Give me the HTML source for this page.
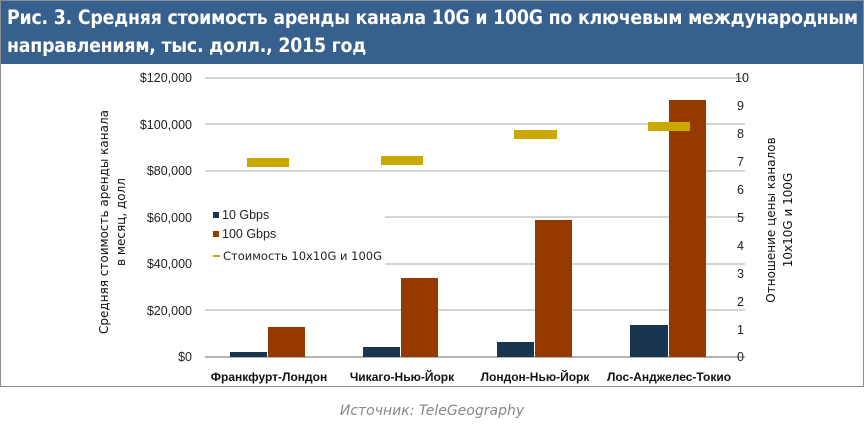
<!DOCTYPE html><html><head><meta charset="utf-8"><style>
body{margin:0;width:864px;height:426px;background:#fff;overflow:hidden;font-family:"Liberation Sans","DejaVu Sans",sans-serif}
</style></head><body>
<div style="position:absolute;left:0;top:0;width:862px;height:385px;border:1px solid #8a8f96"></div>
<div style="position:absolute;left:1px;top:1px;width:862px;height:63px;background:#37608f;color:#fff;font-family:'DejaVu Sans Condensed','DejaVu Sans',sans-serif;font-weight:bold;font-size:19.3px;line-height:28px;padding:3px 0 0 6px;box-sizing:border-box;letter-spacing:-0.2px;white-space:nowrap">Рис. 3. Средняя стоимость аренды канала 10G и 100G по ключевым международным<br>направлениям, тыс. долл., 2015 год</div>
<svg width="864" height="426" style="position:absolute;left:0;top:0" font-family="Liberation Sans, sans-serif">
<g stroke="#d4d4d4" stroke-width="2">
<line x1="205" y1="78" x2="745" y2="78"/><line x1="205" y1="124" x2="745" y2="124"/><line x1="205" y1="171" x2="745" y2="171"/><line x1="385" y1="217" x2="745" y2="217"/><line x1="385" y1="264" x2="745" y2="264"/><line x1="205" y1="310" x2="745" y2="310"/>
</g>
<line x1="205" y1="357" x2="745" y2="357" stroke="#999" stroke-width="1.5"/>
<g font-size="12.5" fill="#222" text-anchor="end">
<text x="192" y="82">$120,000</text><text x="192" y="129">$100,000</text><text x="192" y="175">$80,000</text><text x="192" y="222">$60,000</text><text x="192" y="268">$40,000</text><text x="192" y="315">$20,000</text><text x="192" y="361">$0</text>
</g>
<g font-size="12.5" fill="#222">
<text x="735" y="82">10</text><text x="737" y="110">9</text><text x="737" y="138">8</text><text x="737" y="166">7</text><text x="737" y="194">6</text><text x="737" y="222">5</text><text x="737" y="250">4</text><text x="737" y="278">3</text><text x="737" y="306">2</text><text x="737" y="334">1</text><text x="737" y="361">0</text>
</g>
<g fill="#1a3550">
<rect x="230" y="352" width="37" height="5"/><rect x="363" y="347" width="37" height="10"/><rect x="497" y="342" width="37" height="15"/><rect x="630" y="325" width="38" height="32"/>
</g>
<g fill="#963a00">
<rect x="268" y="327" width="37" height="30"/><rect x="401" y="278" width="37" height="79"/><rect x="535" y="220" width="37" height="137"/><rect x="669" y="100" width="37" height="257"/>
</g>
<g fill="#c9a800">
<rect x="247" y="158" width="42" height="9"/><rect x="381" y="156" width="42" height="9"/><rect x="514" y="130" width="43" height="9"/><rect x="648" y="122" width="42" height="9"/>
</g>
<rect x="213" y="212" width="6" height="6" fill="#1a3550"/><text x="222" y="219" font-size="12.5" fill="#222">10 Gbps</text>
<rect x="213" y="231" width="6" height="6" fill="#963a00"/><text x="222" y="238" font-size="12.5" fill="#222">100 Gbps</text>
<rect x="213" y="255" width="7" height="2" fill="#c9a800"/><text x="223" y="260" font-size="11.5" fill="#222" font-family="DejaVu Sans, sans-serif">Стоимость 10x10G и 100G</text>
<g font-size="12" font-weight="bold" fill="#111" text-anchor="middle" font-family="Liberation Sans, sans-serif">
<text x="269" y="381">Франкфурт-Лондон</text><text x="402" y="381">Чикаго-Нью-Йорк</text><text x="535" y="381">Лондон-Нью-Йорк</text><text x="669" y="381">Лос-Анджелес-Токио</text>
</g>
<g font-size="12" fill="#111" text-anchor="middle" font-family="DejaVu Sans, sans-serif">
<text transform="translate(108,222) rotate(-90)">Средняя стоимость аренды канала</text>
<text transform="translate(125,222) rotate(-90)">в месяц, долл</text>
<text transform="translate(775,220) rotate(-90)">Отношение цены каналов</text>
<text transform="translate(792,220) rotate(-90)">10x10G и 100G</text>
</g>
<text x="432" y="415" font-size="14" font-style="italic" fill="#888" text-anchor="middle" font-family="DejaVu Sans, sans-serif">Источник: TeleGeography</text>
</svg>
</body></html>
